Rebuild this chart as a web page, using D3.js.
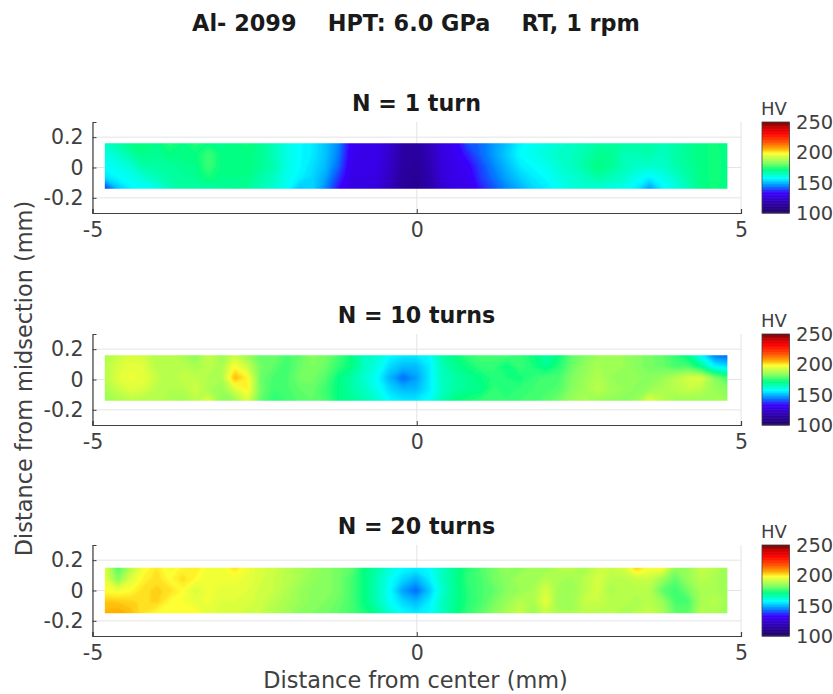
<!DOCTYPE html>
<html>
<head>
<meta charset="utf-8">
<script src="https://cdn.jsdelivr.net/npm/d3@7"></script>
<style>
  html, body { margin: 0; background: #fff; }
  text { font-family: "DejaVu Sans", sans-serif; }
</style>
</head>
<body>
<div id="vis"></div>
<script>
const chartTitle = 'Al- 2099    HPT: 6.0 GPa    RT, 1 rpm';
const panelTitles = ['N = 1 turn', 'N = 10 turns', 'N = 20 turns'];
const xTicks = [-5, 0, 5];
const yTicks = [-0.2, 0, 0.2];
const hvTicks = [100, 150, 200, 250];

// colour map
const hvStops = [100, 120, 134, 145, 158, 172, 183, 199, 207, 218, 232, 243, 250];
const hvColors = ['#1c0060', '#3000b8', '#3a00ff', '#0080ff', '#00ffff', '#00ff80', '#80ff60',
  '#ffff30', '#ffa800', '#ff5000', '#ff0000', '#c00000', '#700000'];

// measured grid: 49 columns, 0.2 mm apart, 5 rows through the thickness
const xStep = 0.2;
const xStart = [-4.81, -4.81, -4.81];
const yStartTop = [0.16, 0.16, 0.15];
const yStep = 0.075;
const nCols = 49;
const nRows = 5;

const hvTurn1 = [
  165,167,172,172,171,175,172,175,172,170,
  172,173,170,166,161,158,156,152,146,132,
  130,130,125,116,114,120,128,132,141,143,
  148,152,157,159,161,163,164,166,168,169,
  168,168,168,166,167,170,172,173,171,

  161,164,168,171,170,172,172,172,177,172,
  172,172,170,166,161,158,156,152,145,131,
  130,129,124,115,114,119,128,131,137,143,
  148,153,158,160,162,164,165,167,170,170,
  166,166,167,165,168,170,172,173,172,

  159,160,163,168,168,169,170,171,177,172,
  172,172,170,167,161,158,155,151,143,130,
  129,129,123,115,113,118,127,130,133,140,
  146,151,156,158,160,163,165,168,172,170,
  166,164,164,164,167,169,172,173,172,

  155,158,160,163,166,168,169,170,174,171,
  171,171,168,165,160,157,154,149,139,129,
  129,128,122,114,112,117,126,130,131,139,
  144,149,153,156,158,161,163,165,168,166,
  164,160,157,160,164,168,172,173,172,

  138,152,157,158,160,166,168,168,167,169,
  170,169,166,163,159,152,154,146,135,128,
  128,127,121,113,111,116,125,129,130,136,
  141,146,150,154,156,159,162,163,162,161,
  160,156,148,157,161,166,171,173,171
];

const hvTurn10 = [
  188,192,194,193,189,190,188,184,192,186,
  192,186,180,182,178,180,184,182,178,172,
  165,163,158,156,156,158,168,172,176,178,
  178,178,176,173,168,172,180,183,186,186,
  186,184,182,180,176,170,158,145,142,

  190,194,196,195,190,189,190,188,190,188,
  199,192,182,180,177,181,183,181,176,172,
  165,161,154,151,151,156,166,170,173,176,
  176,172,177,174,170,175,181,185,188,186,
  186,184,182,181,178,178,170,158,155,

  190,195,197,196,192,189,192,191,189,188,
  206,200,181,178,178,182,182,179,172,168,
  163,158,150,143,148,156,165,168,170,172,
  175,174,173,176,178,178,183,186,189,186,
  185,185,184,186,190,194,195,184,178,

  188,192,195,194,190,189,189,193,188,186,
  194,200,182,177,178,180,181,177,172,168,
  165,160,154,151,151,156,165,168,170,171,
  176,174,176,177,178,179,184,187,190,187,
  186,184,186,188,190,192,190,186,184,

  186,188,190,189,190,188,187,190,195,184,
  186,194,180,176,177,179,180,178,172,170,
  167,163,158,156,156,159,167,172,174,176,
  177,176,177,178,179,182,186,188,186,185,
  184,186,196,190,186,186,186,186,186
];

const hvTurn20 = [
  196,178,190,198,201,197,200,201,197,197,
  202,197,194,193,190,188,186,184,182,180,
  172,168,162,158,157,158,165,170,175,179,
  182,186,184,188,186,190,190,188,192,192,
  194,204,198,199,185,186,192,190,186,

  196,184,195,200,202,199,202,199,197,197,
  197,196,194,192,190,188,185,184,182,178,
  172,166,159,154,150,156,165,170,176,178,
  182,184,188,186,190,188,187,190,194,190,
  190,192,192,186,180,186,190,188,186,

  199,197,199,202,203,202,199,194,197,196,
  196,195,193,192,189,186,184,184,182,178,
  172,166,158,148,143,152,163,170,175,178,
  180,184,186,188,194,187,186,190,194,188,
  190,190,189,180,177,182,188,188,186,

  204,204,203,202,203,199,198,196,197,195,
  195,194,193,190,188,186,184,183,181,178,
  172,166,159,154,151,156,165,170,175,178,
  182,186,190,188,196,186,186,192,192,190,
  190,188,190,186,178,178,188,190,187,

  206,207,205,201,199,198,198,199,196,194,
  194,193,192,189,187,184,183,182,180,178,
  174,170,163,158,156,158,165,171,176,180,
  184,188,192,186,192,188,188,190,190,190,
  188,190,192,188,180,180,190,188,186
];

const hvPanels = [hvTurn1, hvTurn10, hvTurn20];

const width = 833;
const height = 694;
const axisLeft = 92.5;
const axisRight = 741;
const panelTop = [122, 334, 545];
const panelHeight = 91;
const barLeft = 762;
const barWidth = 27.5;
const inkColor = '#404040';

const svg = d3.select('#vis').append('svg')
  .attr('width', width)
  .attr('height', height)
  .style('display', 'block');

const defs = svg.append('defs');
defs.append('filter').attr('id', 'soft')
  .attr('x', '-5%').attr('y', '-20%').attr('width', '110%').attr('height', '140%')
  .append('feGaussianBlur').attr('stdDeviation', 0.9);

const colorScale = d3.scaleLinear().domain(hvStops).range(hvColors).clamp(true);
const xScale = d3.scaleLinear().domain([-5, 5]).range([axisLeft, axisRight]);
const levels = d3.range(96, 252, 1.5);

svg.append('text')
  .attr('x', 416)
  .attr('y', 31)
  .attr('text-anchor', 'middle')
  .attr('font-size', 22.4)
  .attr('font-weight', 'bold')
  .attr('fill', '#1a1a1a')
  .style('white-space', 'pre')
  .text(chartTitle);

function drawPanel(i) {
  const g = svg.append('g').attr('transform', `translate(0,${panelTop[i]})`);
  const yScale = d3.scaleLinear().domain([-0.3, 0.3]).range([panelHeight, 0]);

  // grid
  g.selectAll('.gx').data(xTicks).join('line')
    .attr('x1', d => xScale(d)).attr('x2', d => xScale(d))
    .attr('y1', 0).attr('y2', panelHeight)
    .attr('stroke', '#e4e4e4');
  g.selectAll('.gy').data(yTicks).join('line')
    .attr('x1', axisLeft).attr('x2', axisRight)
    .attr('y1', d => yScale(d)).attr('y2', d => yScale(d))
    .attr('stroke', '#e4e4e4');

  // hardness map as stacked filled contours
  const x0 = xStart[i];
  const yT = yStartTop[i];
  const project = d3.geoTransform({
    point: function (cx, cy) {
      this.stream.point(
        xScale(x0 + (cx - 0.5) * xStep),
        yScale(yT - (cy - 0.5) * yStep)
      );
    }
  });
  const contourPath = d3.geoPath(project);
  const contours = d3.contours().size([nCols, nRows]).thresholds(levels)(hvPanels[i]);

  const clipId = `clip-${i}`;
  defs.append('clipPath').attr('id', clipId).append('rect')
    .attr('x', xScale(x0))
    .attr('y', yScale(yT))
    .attr('width', xScale(x0 + (nCols - 1) * xStep) - xScale(x0))
    .attr('height', yScale(yT - (nRows - 1) * yStep) - yScale(yT));

  g.append('g').attr('clip-path', `url(#${clipId})`)
    .append('g').attr('filter', 'url(#soft)')
    .selectAll('path').data(contours).join('path')
    .attr('d', contourPath)
    .attr('fill', d => colorScale(d.value + 0.75));

  // axes
  const xAxis = d3.axisBottom(xScale).tickValues(xTicks).tickSize(-4).tickPadding(9)
    .tickFormat(d3.format('d'));
  const yAxis = d3.axisLeft(yScale).tickValues(yTicks).tickSize(-4).tickPadding(9)
    .tickFormat(d => d === 0 ? '0' : d3.format('.1f')(d));

  const gx = g.append('g').attr('transform', `translate(0,${panelHeight})`).call(xAxis);
  const gy = g.append('g').attr('transform', `translate(${axisLeft},0)`).call(yAxis);
  [gx, gy].forEach(a => {
    a.select('.domain').attr('stroke', inkColor).attr('stroke-width', 1.2);
    a.selectAll('.tick line').attr('stroke', inkColor);
    a.selectAll('text').attr('font-size', 20.5).attr('fill', inkColor)
      .style('font-family', '"DejaVu Sans", sans-serif');
    a.selectAll('text').text(function () { return this.textContent.replace('\u2212', '-'); });
  });

  g.append('text')
    .attr('x', 416.5)
    .attr('y', -11)
    .attr('text-anchor', 'middle')
    .attr('font-size', 22.2)
    .attr('font-weight', 'bold')
    .attr('fill', '#1a1a1a')
    .text(panelTitles[i]);

  // colour bar
  const barScale = d3.scaleLinear().domain([100, 250]).range([panelHeight, 0]);
  const bar = g.append('g');
  bar.selectAll('rect').data(d3.range(100, 250)).join('rect')
    .attr('x', barLeft)
    .attr('width', barWidth)
    .attr('y', d => barScale(d + 1))
    .attr('height', d => barScale(d) - barScale(d + 1) + 0.5)
    .attr('fill', d => colorScale(d + 0.5));
  bar.append('rect')
    .attr('x', barLeft).attr('y', 0)
    .attr('width', barWidth).attr('height', panelHeight)
    .attr('fill', 'none').attr('stroke', inkColor).attr('stroke-width', 0.8);
  bar.selectAll('.hv-tick').data(hvTicks).join('text')
    .attr('class', 'hv-tick')
    .attr('x', 796)
    .attr('y', d => barScale(d))
    .attr('dy', '0.36em')
    .attr('font-size', 19.5)
    .attr('fill', inkColor)
    .text(d => d);
  bar.append('text')
    .attr('x', 761)
    .attr('y', -7)
    .attr('font-size', 18)
    .attr('fill', inkColor)
    .text('HV');
}

d3.range(panelTitles.length).forEach(drawPanel);

svg.append('text')
  .attr('x', 415.5)
  .attr('y', 688)
  .attr('text-anchor', 'middle')
  .attr('font-size', 22.4)
  .attr('fill', inkColor)
  .text('Distance from center (mm)');

svg.append('text')
  .attr('transform', 'translate(32,378.5) rotate(-90)')
  .attr('text-anchor', 'middle')
  .attr('font-size', 22.4)
  .attr('fill', inkColor)
  .text('Distance from midsection (mm)');
</script>
</body>
</html>
